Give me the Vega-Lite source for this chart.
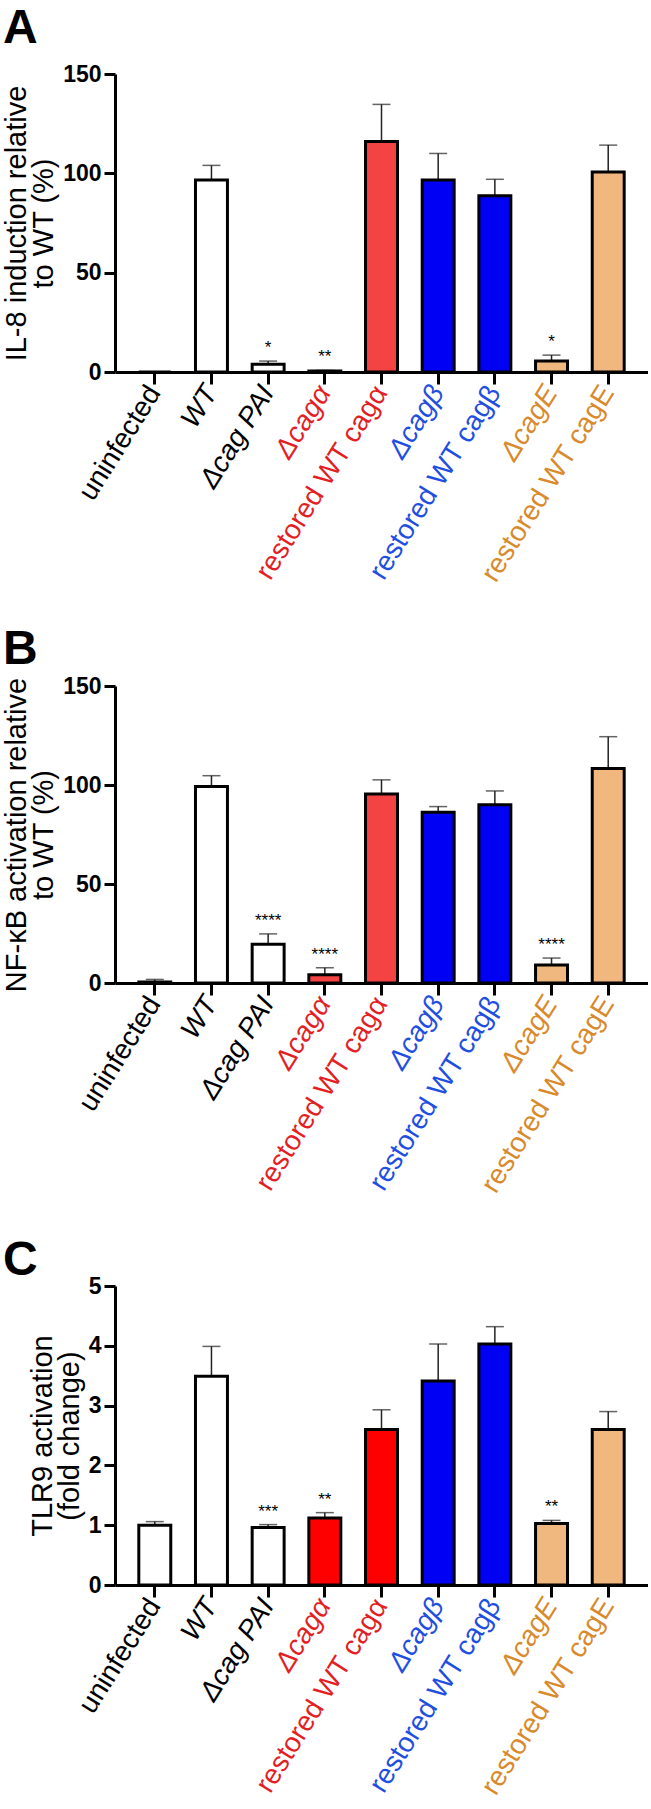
{
  "$schema": "https://vega.github.io/schema/vega-lite/v6.json",
  "background": "white",
  "padding": {"left": 2, "top": 5, "right": 0, "bottom": 0},
  "spacing": 39,
  "config": {
    "view": {"stroke": null},
    "font": "Liberation Sans",
    "axisY": {
      "titleFontSize": 29, "titleFont": "Liberation Sans", "titleFontWeight": "normal", "titleColor": "black",
      "titlePadding": 4, "titleLineHeight": 27,
      "labelFont": "Liberation Sans", "labelFontSize": 23, "labelFontWeight": "bold", "labelColor": "black",
      "labelPadding": 3, "tickSize": 11, "tickWidth": 3, "tickColor": "black",
      "domainWidth": 3, "domainColor": "black", "grid": false
    },
    "axisX": {
      "title": null, "labelAngle": -58, "labelFontSize": 28, "labelFont": "Liberation Sans", "labelPadding": 4,
      "tickSize": 12, "tickWidth": 3, "tickColor": "black", "domainWidth": 3, "domainColor": "black",
      "labelLimit": 400, "grid": false,
      "labelColor": {"condition": [
        {"test": "indexof(datum.value, 'cagα') >= 0", "value": "#e31e24"},
        {"test": "indexof(datum.value, 'cagβ') >= 0", "value": "#1f4fe0"},
        {"test": "indexof(datum.value, 'cagE') >= 0", "value": "#d88a2c"}
      ], "value": "black"},
      "labelFontStyle": {"condition": {"test": "indexof(datum.value, 'restored') >= 0 || datum.value == 'uninfected'", "value": "normal"}, "value": "italic"}
    },
    "title": {"fontSize": 48, "fontWeight": "bold", "font": "Liberation Sans", "color": "black", "anchor": "start", "frame": "group", "dx": -112, "baseline": "bottom"}
  },
  "datasets": {
    "A": [
      {"cat": "uninfected", "grp": "white", "v": 0, "err": 0, "sig": ""},
      {"cat": "WT", "grp": "white", "v": 96.6, "err": 104, "sig": ""},
      {"cat": "Δcag PAI", "grp": "white", "v": 3.9, "err": 5.5, "sig": "*"},
      {"cat": "Δcagα", "grp": "alpha", "v": 0.5, "err": 0.8, "sig": "**"},
      {"cat": "restored WT cagα", "grp": "alpha", "v": 116, "err": 134.7, "sig": ""},
      {"cat": "Δcagβ", "grp": "beta", "v": 96.6, "err": 110, "sig": ""},
      {"cat": "restored WT cagβ", "grp": "beta", "v": 88.7, "err": 97, "sig": ""},
      {"cat": "ΔcagE", "grp": "E", "v": 5.5, "err": 8.5, "sig": "*"},
      {"cat": "restored WT cagE", "grp": "E", "v": 100.7, "err": 114.2, "sig": ""}
    ],
    "B": [
      {"cat": "uninfected", "grp": "white", "v": 0.5, "err": 1.8, "sig": ""},
      {"cat": "WT", "grp": "white", "v": 99.2, "err": 104.7, "sig": ""},
      {"cat": "Δcag PAI", "grp": "white", "v": 19.6, "err": 24.8, "sig": "****"},
      {"cat": "Δcagα", "grp": "alpha", "v": 4.2, "err": 7.7, "sig": "****"},
      {"cat": "restored WT cagα", "grp": "alpha", "v": 95.4, "err": 102.6, "sig": ""},
      {"cat": "Δcagβ", "grp": "beta", "v": 86.3, "err": 89.1, "sig": ""},
      {"cat": "restored WT cagβ", "grp": "beta", "v": 90, "err": 97, "sig": ""},
      {"cat": "ΔcagE", "grp": "E", "v": 9.1, "err": 12.6, "sig": "****"},
      {"cat": "restored WT cagE", "grp": "E", "v": 108.3, "err": 124.4, "sig": ""}
    ],
    "C": [
      {"cat": "uninfected", "grp": "white", "v": 1.0, "err": 1.06, "sig": ""},
      {"cat": "WT", "grp": "white", "v": 3.49, "err": 3.99, "sig": ""},
      {"cat": "Δcag PAI", "grp": "white", "v": 0.96, "err": 1.01, "sig": "***"},
      {"cat": "Δcagα", "grp": "alpha", "v": 1.12, "err": 1.21, "sig": "**"},
      {"cat": "restored WT cagα", "grp": "alpha", "v": 2.6, "err": 2.93, "sig": ""},
      {"cat": "Δcagβ", "grp": "beta", "v": 3.41, "err": 4.03, "sig": ""},
      {"cat": "restored WT cagβ", "grp": "beta", "v": 4.03, "err": 4.32, "sig": ""},
      {"cat": "ΔcagE", "grp": "E", "v": 1.03, "err": 1.08, "sig": "**"},
      {"cat": "restored WT cagE", "grp": "E", "v": 2.6, "err": 2.9, "sig": ""}
    ]
  },
  "resolve": {"scale": {"fill": "independent", "x": "independent", "y": "independent"}},
  "vconcat": [
    {
      "title": {"text": "A", "offset": 10},
      "width": 533, "height": 298,
      "data": {"name": "A"},
      "encoding": {"x": {"field": "cat", "type": "nominal", "sort": null, "scale": {"paddingInner": 0.436, "paddingOuter": 0.42}}},
      "layer": [
        {"mark": {"type": "rule", "strokeWidth": 1.5, "color": "#222222"},
         "encoding": {"y": {"field": "v", "type": "quantitative", "scale": {"domain": [0, 150], "nice": false},
                            "axis": {"values": [0, 50, 100, 150], "title": ["IL-8 induction relative", "to WT (%)"]}},
                      "y2": {"field": "err"}}},
        {"mark": {"type": "tick", "size": 18, "thickness": 1.5, "color": "#222222"},
         "encoding": {"y": {"field": "err", "type": "quantitative"}}},
        {"mark": {"type": "bar", "stroke": "black", "strokeWidth": 3},
         "encoding": {"y": {"field": "v", "type": "quantitative"},
                      "fill": {"field": "grp", "type": "nominal", "legend": null,
                               "scale": {"domain": ["white", "alpha", "beta", "E"], "range": ["#ffffff", "#f44343", "#0000f2", "#f0b77f"]}}}},
        {"transform": [{"filter": "datum.sig != ''"}],
         "mark": {"type": "text", "dy": -8, "fontSize": 17, "baseline": "alphabetic", "color": "black"},
         "encoding": {"y": {"field": "err", "type": "quantitative"}, "text": {"field": "sig"}}}
      ]
    },
    {
      "title": {"text": "B", "offset": 1},
      "width": 533, "height": 297,
      "data": {"name": "B"},
      "encoding": {"x": {"field": "cat", "type": "nominal", "sort": null, "scale": {"paddingInner": 0.436, "paddingOuter": 0.42}}},
      "layer": [
        {"mark": {"type": "rule", "strokeWidth": 1.5, "color": "#222222"},
         "encoding": {"y": {"field": "v", "type": "quantitative", "scale": {"domain": [0, 150], "nice": false},
                            "axis": {"values": [0, 50, 100, 150], "title": ["NF-κB activation relative", "to WT (%)"]}},
                      "y2": {"field": "err"}}},
        {"mark": {"type": "tick", "size": 18, "thickness": 1.5, "color": "#222222"},
         "encoding": {"y": {"field": "err", "type": "quantitative"}}},
        {"mark": {"type": "bar", "stroke": "black", "strokeWidth": 3},
         "encoding": {"y": {"field": "v", "type": "quantitative"},
                      "fill": {"field": "grp", "type": "nominal", "legend": null,
                               "scale": {"domain": ["white", "alpha", "beta", "E"], "range": ["#ffffff", "#f44343", "#0000f2", "#f0b77f"]}}}},
        {"transform": [{"filter": "datum.sig != ''"}],
         "mark": {"type": "text", "dy": -8, "fontSize": 17, "baseline": "alphabetic", "color": "black"},
         "encoding": {"y": {"field": "err", "type": "quantitative"}, "text": {"field": "sig"}}}
      ]
    },
    {
      "title": {"text": "C", "offset": -10},
      "width": 533, "height": 299,
      "data": {"name": "C"},
      "encoding": {"x": {"field": "cat", "type": "nominal", "sort": null, "scale": {"paddingInner": 0.436, "paddingOuter": 0.42}}},
      "layer": [
        {"mark": {"type": "rule", "strokeWidth": 1.5, "color": "#222222"},
         "encoding": {"y": {"field": "v", "type": "quantitative", "scale": {"domain": [0, 5], "nice": false},
                            "axis": {"values": [0, 1, 2, 3, 4, 5], "format": "d", "title": ["TLR9 activation", "(fold change)"]}},
                      "y2": {"field": "err"}}},
        {"mark": {"type": "tick", "size": 18, "thickness": 1.5, "color": "#222222"},
         "encoding": {"y": {"field": "err", "type": "quantitative"}}},
        {"mark": {"type": "bar", "stroke": "black", "strokeWidth": 3},
         "encoding": {"y": {"field": "v", "type": "quantitative"},
                      "fill": {"field": "grp", "type": "nominal", "legend": null,
                               "scale": {"domain": ["white", "alpha", "beta", "E"], "range": ["#ffffff", "#ff0000", "#0000f2", "#f0b77f"]}}}},
        {"transform": [{"filter": "datum.sig != ''"}],
         "mark": {"type": "text", "dy": -8, "fontSize": 17, "baseline": "alphabetic", "color": "black"},
         "encoding": {"y": {"field": "err", "type": "quantitative"}, "text": {"field": "sig"}}}
      ]
    }
  ]
}
